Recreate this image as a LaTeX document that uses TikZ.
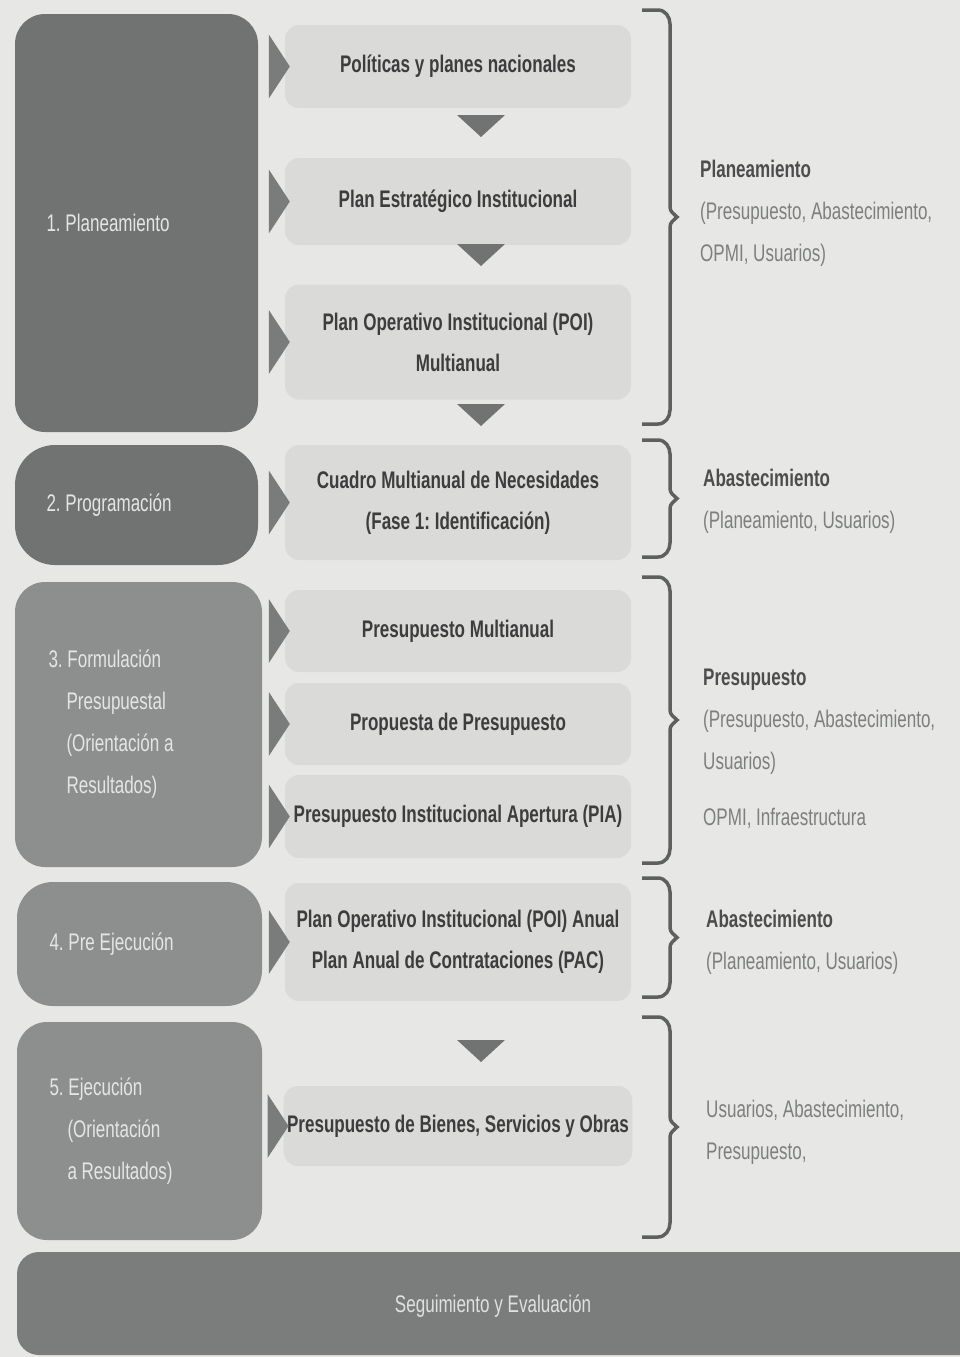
\documentclass[tikz,border=0pt]{standalone}
\usepackage{fontspec}
\setmainfont{Liberation Sans}[FakeStretch=0.71]
\usetikzlibrary{positioning,calc}

\definecolor{cFondo}{HTML}{E7E8E6}
\definecolor{cFase}{HTML}{717372}
\definecolor{cFaseClara}{HTML}{8D8F8E}
\definecolor{cBarra}{HTML}{7B7D7C}
\definecolor{cCaja}{HTML}{DADBD9}
\definecolor{cFlecha}{HTML}{7A7C7B}
\definecolor{cLlave}{HTML}{5E605F}
\definecolor{cTexto}{HTML}{3C3D3C}
\definecolor{cRolOsc}{HTML}{4C4D4C}
\definecolor{cRol}{HTML}{7D7F7E}

\tikzset{
  fase/.style={rectangle, rounded corners=30pt, fill=cFase, text=white!90!black,
    text width=180pt, align=flush left, inner xsep=31pt, inner ysep=0pt,
    font=\frenchspacing\fontsize{24}{42}\selectfont},
  faseclara/.style={fase, fill=cFaseClara},
  caja/.style={rectangle, rounded corners=14pt, fill=cCaja, minimum width=346pt,
    inner ysep=0pt, text=cTexto, align=center,
    font=\frenchspacing\bfseries\fontsize{24}{41}\selectfont},
  rol/.style={anchor=west, align=left, inner sep=0pt, text=cRol,
    font=\frenchspacing\fontsize{24}{42}\selectfont},
  llave/.style={draw=cLlave, line width=3.5pt},
  flecha/.style={fill=cFlecha},
}
\newcommand{\flechader}[1]{%
  \fill[flecha] ($(#1.west)+(-16,-32)$) -- ($(#1.west)+(5,0)$) -- ($(#1.west)+(-16,32)$) -- cycle;}

\begin{document}
\begin{tikzpicture}[x=1pt,y=-1pt]
\useasboundingbox (0,0) rectangle (960,1357);
\fill[cFondo] (0,0) rectangle (960,1357);

% fases
\node[fase, minimum width=243pt, minimum height=418pt] (p1) at (136.5,223) {1. Planeamiento};
\node[fase, rounded corners=40pt, minimum width=243pt, minimum height=120pt] (p2) at (136.5,505) {2. Programación};
\node[faseclara, minimum width=247pt, minimum height=285pt] (p3) at (138.5,724.5)
  {3. Formulación\\\hspace*{18pt}Presupuestal\\\hspace*{18pt}(Orientación a\\\hspace*{18pt}Resultados)};
\node[faseclara, rounded corners=36pt, minimum width=245pt, minimum height=124pt] (p4) at (139.5,944) {4. Pre Ejecución};
\node[faseclara, minimum width=245pt, minimum height=218pt] (p5) at (139.5,1131)
  {5. Ejecución\\\hspace*{18pt}(Orientación\\\hspace*{18pt}a Resultados)};

% cajas
\node[caja, minimum height=83pt] (c1) at (458,66.5) {Políticas y planes nacionales};
\node[caja, minimum height=87pt] (c2) at (458,201.5) {Plan Estratégico Institucional};
\node[caja, minimum height=115pt] (c3) at (458,342) {Plan Operativo Institucional (POI)\\Multianual};
\node[caja, minimum height=115pt] (c4) at (458,502.5) {Cuadro Multianual de Necesidades\\(Fase 1: Identificación)};
\node[caja, minimum height=82pt] (c5) at (458,631) {Presupuesto Multianual};
\node[caja, minimum height=82pt] (c6) at (458,724) {Propuesta de Presupuesto};
\node[caja, minimum height=83pt] (c7) at (458,816.5) {Presupuesto Institucional Apertura (PIA)};
\node[caja, minimum height=118pt] (c8) at (458,942) {Plan Operativo Institucional (POI) Anual\\Plan Anual de Contrataciones (PAC)};
\node[caja, minimum height=80pt] (c9) at (458,1126) {Presupuesto de Bienes, Servicios y Obras};

\foreach \c in {c1,c2,c3,c4,c5,c6,c7,c8,c9} {\flechader{\c}}
\foreach \y in {115,244,404,1040}
  \fill[flecha, fill=cFase] (457,\y) -- (505,\y) -- (481,\y+22) -- cycle;

% llaves
\foreach \t/\b in {10/424, 440/557, 577/863, 878/997, 1017/1237}
  \draw[llave] (642,\t) -- (658,\t) to[out=0,in=90] (670,\t+14)
    -- (670,{(\t+\b)/2-10}) to[out=-90,in=135] (677,{(\t+\b)/2})
    to[out=225,in=90] (670,{(\t+\b)/2+10}) -- (670,\b-14)
    to[out=-90,in=0] (658,\b) -- (642,\b);

% roles
\node[rol] (r1) at (700,213) {\textcolor{cRolOsc}{\bfseries Planeamiento}\\(Presupuesto, Abastecimiento,\\OPMI, Usuarios)};
\node[rol] (r2) at (703,501) {\textcolor{cRolOsc}{\bfseries Abastecimiento}\\(Planeamiento, Usuarios)};
\node[rol] (r3) at (703,722) {\textcolor{cRolOsc}{\bfseries Presupuesto}\\(Presupuesto, Abastecimiento,\\Usuarios)};
\node[rol] (r3b) at (703,818) {OPMI, Infraestructura};
\node[rol] (r4) at (706,942) {\textcolor{cRolOsc}{\bfseries Abastecimiento}\\(Planeamiento, Usuarios)};
\node[rol] (r5) at (706,1132) {Usuarios, Abastecimiento,\\Presupuesto,};

% barra inferior
\fill[cBarra, rounded corners=22pt] (990,1252) -- (17,1252) -- (17,1355) -- (990,1355) -- cycle;
\node[text=white!88!black, font=\fontsize{24}{42}\selectfont] (seg) at (493,1306) {Seguimiento y Evaluación};
\end{tikzpicture}
\end{document}
